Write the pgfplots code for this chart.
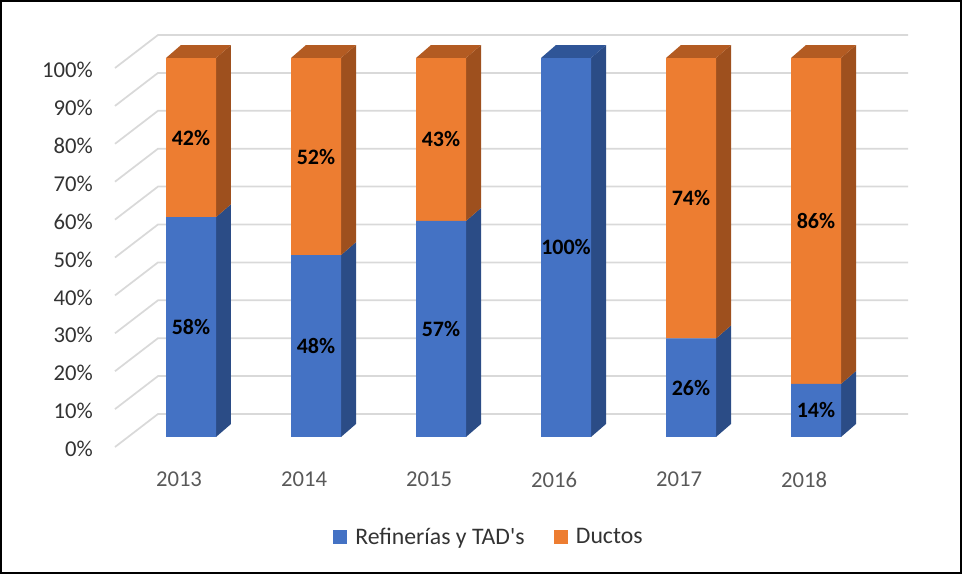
\documentclass[border=0pt]{standalone}
\usepackage{pgfplots}
\pgfplotsset{compat=1.18}
\usepackage{pgfplotstable}
\usepackage{fontspec}
\setmainfont{Carlito}

\definecolor{bluefront}{HTML}{4472C4}
\definecolor{blueside}{HTML}{2B4C86}
\definecolor{bluetop}{HTML}{2F5597}
\definecolor{orangefront}{HTML}{ED7D31}
\definecolor{orangeside}{HTML}{9E501E}
\definecolor{orangetop}{HTML}{B35B22}
\definecolor{gridgray}{HTML}{D9D9D9}
\definecolor{ylab}{HTML}{333333}
\definecolor{xlab}{HTML}{595959}

\pgfplotstableread{
x blue orange
0 58 42
1 48 52
2 57 43
3 100 0
4 26 74
5 14 86
}\datatable

\pgfplotsset{
  common/.style={
    scale only axis,
    width=594.75pt, height=309pt,
    at={(0pt,0pt)}, anchor=south west,
    xmin=-0.608, xmax=5.736,
    ymin=-2.64, ymax=106.07,
    clip=false,
  },
  gridline/.style={draw=gridgray, line width=1.3pt, mark=none},
}

\begin{document}
\begin{tikzpicture}
\useasboundingbox (-86.25pt,-96pt) rectangle (636.75pt,335.25pt);
\draw[line width=1.6pt, black] (-85.2pt,-94.6pt) rectangle (634.2pt,334.2pt);

% axis 1: wall grid, ticks, side and top faces
\begin{axis}[common,
  axis line style={draw=none},
  tick style={draw=none},
  major tick length=0pt,
  ytick={0,10,...,100},
  yticklabels={0\%,10\%,20\%,30\%,40\%,50\%,60\%,70\%,80\%,90\%,100\%},
  xtick={0,...,5},
  xticklabels={2013,2014,2015,2016,2017,2018},
  yticklabel style={inner sep=0pt, anchor=east, xshift=-16.5pt, yshift=-9pt,
    font=\fontsize{17}{20}\selectfont, text=ylab},
  xticklabel style={inner sep=0pt, anchor=north, xshift=-9pt, yshift=-18.75pt,
    font=\fontsize{17}{20}\selectfont, text=xlab},
]
\pgfplotsinvokeforeach{0,10,...,100}{
  \pgfmathsetmacro\ya{#1-2.64}
  \pgfmathsetmacro\yb{#1+6.07}
  \edef\tmp{\noexpand\addplot[gridline] coordinates {(-0.608,\ya) (-0.264,\yb) (5.736,\yb)};}\tmp
}
\pgfplotsinvokeforeach{0,...,5}{
  \pgfplotstablegetelem{#1}{blue}\of\datatable \edef\vb{\pgfplotsretval}
  \pgfplotstablegetelem{#1}{orange}\of\datatable \edef\vo{\pgfplotsretval}
  \pgfmathsetmacro\xl{#1-0.2}
  \pgfmathsetmacro\xr{#1+0.2}
  \pgfmathsetmacro\xlb{#1-0.2+0.12}
  \pgfmathsetmacro\xrb{#1+0.2+0.12}
  \pgfmathsetmacro\vbb{\vb+3.43}
  \pgfmathsetmacro\vt{\vb+\vo}
  \pgfmathsetmacro\vtb{\vt+3.43}
  \edef\tmp{\noexpand\addplot[fill=blueside,draw=none] coordinates {(\xr,0) (\xrb,3.43) (\xrb,\vbb) (\xr,\vb)} -- cycle;}\tmp
  \ifdim\vo pt>0pt
    \edef\tmp{\noexpand\addplot[fill=orangeside,draw=none] coordinates {(\xr,\vb) (\xrb,\vbb) (\xrb,\vtb) (\xr,\vt)} -- cycle;}\tmp
    \edef\tmp{\noexpand\addplot[fill=orangetop,draw=none] coordinates {(\xl,\vt) (\xr,\vt) (\xrb,\vtb) (\xlb,\vtb)} -- cycle;}\tmp
  \else
    \edef\tmp{\noexpand\addplot[fill=bluetop,draw=none] coordinates {(\xl,\vt) (\xr,\vt) (\xrb,\vtb) (\xlb,\vtb)} -- cycle;}\tmp
  \fi
}
\end{axis}

% axis 2: front faces
\begin{axis}[common, hide axis,
  ybar stacked, bar width=0.4,
  legend columns=2,
  legend style={draw=none, fill=none, inner sep=0pt,
    at={(0.2749,-0.2184)}, anchor=west,
    font=\fontsize{17.8}{20}\selectfont, text=ylab,
    nodes={inner sep=0pt},
    /tikz/every odd column/.append style={column sep=6pt},
    /tikz/every even column/.append style={column sep=22pt}},
]
\addplot[fill=bluefront, draw=none,
  legend image code/.code={\fill[bluefront] (0pt,-5.25pt) rectangle (10.5pt,5.25pt);}]
  table[x=x, y=blue]{\datatable};
\addplot[fill=orangefront, draw=none,
  legend image code/.code={\fill[orangefront] (0pt,-5.25pt) rectangle (10.5pt,5.25pt);}]
  table[x=x, y=orange]{\datatable};
\legend{Refinerías y TAD\textquotesingle s, Ductos}
\end{axis}

% axis 3: data labels
\begin{axis}[common, hide axis,
  every node near coord/.append style={anchor=center, text=black,
    font=\bfseries\fontsize{16.5}{19}\selectfont},
]
\addplot[draw=none, mark=none, nodes near coords={\pgfplotspointmeta\%},
  point meta=explicit symbolic]
  table[x=x, y expr=\thisrow{blue}/2, meta=blue]{\datatable};
\addplot[draw=none, mark=none, nodes near coords={\pgfplotspointmeta\%},
  point meta=explicit symbolic,
  restrict expr to domain={\thisrow{orange}}{1:1000}]
  table[x=x, y expr=\thisrow{blue}+\thisrow{orange}/2, meta=orange]{\datatable};
\end{axis}
\end{tikzpicture}
\end{document}
